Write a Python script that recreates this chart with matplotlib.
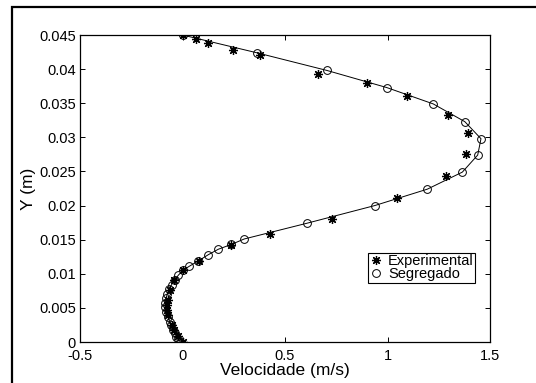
import numpy as np
import matplotlib
matplotlib.use('Agg')
import matplotlib.pyplot as plt
from matplotlib.patches import Rectangle

plt.rcParams['font.family'] = ['Liberation Sans', 'DejaVu Sans']

# Experimental data (asterisks)
exp_y = [0.045, 0.0444, 0.0438, 0.0428, 0.0420, 0.0393, 0.0379, 0.0360, 0.0333,
         0.0306, 0.0276, 0.0243, 0.0211, 0.0181, 0.0158, 0.0142, 0.0119, 0.0105,
         0.0091, 0.0076, 0.0062, 0.0054, 0.0047, 0.0040, 0.0025, 0.0018, 0.0009, 0.0]
exp_v = [0.0, 0.066, 0.124, 0.245, 0.378, 0.66, 0.899, 1.094, 1.297,
         1.391, 1.383, 1.285, 1.048, 0.728, 0.427, 0.235, 0.082, 0.0,
         -0.04, -0.061, -0.07, -0.076, -0.076, -0.07, -0.051, -0.041, -0.022, 0.0]

# Segregado (circles + line)
seg_y = [0.045, 0.0424, 0.0398, 0.0373, 0.0349, 0.0323, 0.0298, 0.0274, 0.0249,
         0.0224, 0.0200, 0.0174, 0.0151, 0.0143, 0.0136, 0.0128, 0.0119, 0.0111,
         0.0105, 0.0098, 0.0091, 0.0084, 0.0078, 0.0071, 0.0064, 0.0057, 0.0052,
         0.0044, 0.0036, 0.0030, 0.0025, 0.0018, 0.0013, 0.0008, 0.0004, 0.0]
seg_v = [0.0, 0.362, 0.705, 0.996, 1.223, 1.377, 1.456, 1.44, 1.365,
         1.194, 0.938, 0.606, 0.301, 0.238, 0.175, 0.126, 0.078, 0.033,
         0.002, -0.02, -0.038, -0.053, -0.065, -0.074, -0.080, -0.085, -0.085,
         -0.080, -0.069, -0.063, -0.057, -0.045, -0.038, -0.030, -0.02, -0.01]

fig = plt.figure(figsize=(5.36, 3.83), dpi=100)
ax = fig.add_axes([80/536, 1-342/383, 410/536, 307/383])

# outer frame of the figure
fig.patches.append(Rectangle((12/536, -0.2), 1.2, 1.2 - 7/383, transform=fig.transFigure,
                             fill=False, edgecolor='black', lw=1.6))

ax.plot(seg_v, seg_y, '-', color='black', lw=0.7)
ax.plot(exp_v, exp_y, linestyle='none', marker=(8, 2, 0), ms=6.5, mew=0.9,
        color='black', label='Experimental')
ax.plot(seg_v, seg_y, linestyle='none', marker='o', ms=5.6, mfc='none', mew=0.7,
        color='black', label='Segregado')

ax.set_xlim(-0.5, 1.5)
ax.set_ylim(0, 0.045)
ax.set_xticks([-0.5, 0, 0.5, 1, 1.5])
ax.set_xticklabels(['-0.5', '0', '0.5', '1', '1.5'])
ax.set_yticks(np.arange(0, 0.0451, 0.005))
ax.set_yticklabels(['0', '0.005', '0.01', '0.015', '0.02', '0.025', '0.03',
                    '0.035', '0.04', '0.045'])
ax.tick_params(direction='in', length=3.5, width=0.7, labelsize=10.5,
               top=True, right=True)
ax.tick_params(axis='y', pad=3)
ax.tick_params(axis='x', pad=5)
for s in ax.spines.values():
    s.set_linewidth(0.9)

ax.set_xlabel('Velocidade (m/s)', fontsize=12.5, labelpad=0)
ax.set_ylabel('Y (m)', fontsize=12.5, labelpad=2)

leg = ax.legend(loc='upper left', bbox_to_anchor=(0.702, 0.29), fontsize=10.5,
                frameon=True, fancybox=False, framealpha=1, edgecolor='black',
                borderaxespad=0, borderpad=0.1, handlelength=0.9,
                handletextpad=0.4, labelspacing=-0.08)
leg.get_frame().set_linewidth(0.8)

fig.savefig('out.png', dpi=100)
